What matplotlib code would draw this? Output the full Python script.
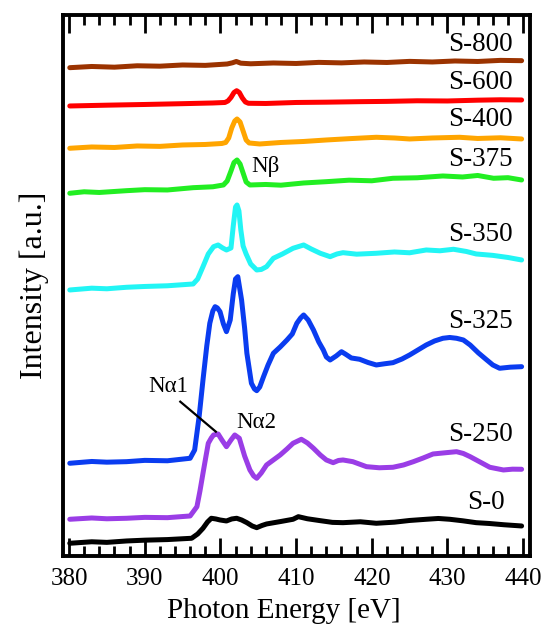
import matplotlib
matplotlib.use('Agg')
import matplotlib.pyplot as plt
from matplotlib.ticker import MultipleLocator

plt.rcParams['font.family'] = ['Liberation Serif', 'DejaVu Serif']

# spectra: photon energy [eV] and stacked intensity [a.u.]
e_s800 = [380.1, 383, 386, 389, 392, 395, 398, 400.9, 401.6, 402.1, 402.7, 404, 407,
          410, 413, 416, 419, 422, 425, 428, 431, 434, 437, 439.8]
i_s800 = [488.3, 489.5, 488.8, 490.2, 489.8, 491, 490.6, 492, 493.2, 494.5, 492.8, 492.2, 493,
          492.5, 493.6, 493.1, 494, 493.5, 494.6, 494, 495, 494.5, 495.6, 495.3]

e_s600 = [380.1, 385, 390, 395, 399, 400.6, 401.0, 401.4, 401.8, 402.15, 402.5, 402.9,
          403.3, 403.7, 406, 410, 414, 418.4, 422, 426, 430, 434, 437, 439.8]
i_s600 = [450, 450.8, 451.5, 452.3, 453, 453.5, 455, 458.5, 463.5, 465.3, 463.5, 458,
          454, 452.7, 452.5, 453.5, 453.8, 454.3, 454.6, 455.2, 455, 455.8, 456.2, 456]

e_s400 = [380.1, 383, 386, 389, 392, 395, 398, 400.2, 400.7, 401.1, 401.5, 401.9,
          402.2, 402.6, 403.0, 403.4, 403.8, 405.2, 408, 411, 414.0, 417, 420.6,
          423, 425.0, 428, 431.6, 434, 437, 439.8]
i_s400 = [407.7, 409, 408.5, 410, 409.6, 411, 411.5, 412.5, 413.5, 418, 428, 435,
          437, 434, 425, 416, 413, 412, 413.5, 414.5, 416, 417.3, 418.7,
          418, 417, 418, 418.7, 417.5, 418.2, 417]

e_s375 = [380.1, 382, 384, 387.6, 390, 393, 396.4, 399, 400.4, 400.9, 401.4, 401.8,
          402.2, 402.6, 403.0, 403.4, 403.9, 406, 408, 411, 414.0, 417, 420, 422.8,
          426, 429.4, 432, 434, 436.1, 438, 439.8]
i_s375 = [362.7, 364.2, 363.5, 365.3, 366.3, 366, 368.3, 369.2, 371, 375, 385, 393.5,
          396, 392, 383, 374, 371, 371.5, 370.8, 373, 374.3, 375.8, 375.2, 377.7,
          378.2, 380, 379, 380.5, 377.7, 378.3, 376]

e_s350 = [380.1, 383, 385, 387.6, 390, 393, 396.4, 397.0, 397.7, 398.4, 399.1, 399.7,
          400.3, 400.8, 401.4, 401.7, 402.0, 402.2, 402.45, 402.7, 403.0, 403.4,
          404.0, 404.8, 405.4, 406.1, 407.0, 408.2, 409.6, 411.0, 412.0, 413.2,
          414.5, 415.4, 416.2, 418, 420.6, 423, 425, 427.2, 429, 430.8, 432.5,
          433.8, 436, 438, 439.8]
i_s350 = [266, 267.8, 267.2, 268.7, 269.5, 270.2, 272, 277, 289.3, 302, 309.3, 311,
          308, 306, 308, 330, 349, 351, 345, 326, 310, 302,
          292, 286, 286.5, 289.3, 297.7, 302, 307.7, 311, 307, 302.7,
          299.3, 302, 303.3, 301.8, 302.7, 304, 303.2, 306, 305.2, 306.7, 304.5,
          302, 300.6, 298.5, 296]

e_s325 = [380.1, 383, 385, 387.6, 390, 393, 396.0, 396.6, 397.2, 397.7, 398.2, 398.6,
          399.0, 399.3, 399.6, 399.95, 400.4, 400.8, 401.3, 401.7, 402.0, 402.3,
          402.8, 403.2, 403.5, 404.1, 404.5, 404.8, 405.2, 405.7, 406.3, 407.0,
          407.9, 408.8, 409.5, 410.1, 410.6, 411.0, 411.6, 412.3, 413.0, 413.6,
          414.0, 414.5, 415.3, 416.0, 416.5, 417.3, 418.4, 419.5, 420.6, 421.7,
          422.8, 424.0, 425.0, 426.1, 427.2, 428.3, 429.4, 430.3, 431.2, 432.1,
          433.0, 434.1, 435.2, 436.0, 436.9, 438.3, 439.8]
i_s325 = [92.7, 94.5, 93.8, 94.3, 95.6, 95.2, 97.7, 106, 140, 176, 210, 232.7,
          245, 249.3, 248, 244.3, 232, 224.3, 236, 262, 277, 279.3,
          256, 228, 202.7, 172.7, 167, 165.3, 169, 179.3, 191, 202.7,
          209, 216, 222, 232.7, 238, 241, 236, 226, 214, 206,
          199, 196, 200, 204.3, 202, 198, 196.7, 193.5, 191, 192.2,
          193.3, 197, 201, 206, 211, 215, 217.7, 218.5, 217.7, 216,
          211, 203, 196, 191, 187.7, 188.8, 189.3]

e_s250 = [380.1, 383, 385, 387.6, 390, 393, 396.0, 396.9, 397.3, 397.7, 398.1, 398.4,
          398.8, 399.1, 399.7, 400.2, 400.8, 401.4, 401.9, 402.5, 403.2, 403.9,
          404.4, 404.8, 405.4, 406.1, 407.0, 407.9, 408.8, 409.6, 410.7, 411.5,
          412.3, 413.2, 414.0, 414.9, 415.6, 416.2, 417.5, 419.3, 421, 422.8,
          424.2, 425.5, 426.8, 428.1, 429.7, 431.2, 432.1, 433.0, 434.3, 435.6,
          437.4, 438.6, 439.8]
i_s250 = [36.7, 38, 37.2, 37.7, 38.6, 38.3, 40, 49.3, 65, 82.7, 100, 112.7,
          118, 121, 122, 116, 109.3, 116, 121, 117.7, 100, 86,
          80, 77.7, 83, 91, 96, 101, 107, 112.7, 116.7, 113,
          107.7, 101, 96, 93.3, 95.5, 96, 94.3, 89.3, 88.2, 88.7,
          91, 94.3, 98, 102, 103.2, 104.3, 102.5, 99.3, 94, 88.7,
          86, 86.8, 86.7]

e_s0 = [380.1, 383, 385, 387.6, 390, 393, 396.2, 397.0, 397.7, 398.3, 398.8,
        399.4, 399.95, 400.8, 401.5, 402.15, 402.8, 403.5, 404.2, 404.8, 405.5,
        406.1, 408, 409.6, 410.3, 411.5, 413.2, 414.8, 416.2, 418.5, 420.6, 423,
        425, 427.2, 428.8, 430.3, 432, 433.8, 435.5, 437.5, 439.8]
i_s0 = [12.7, 14.2, 13.6, 15, 15.8, 16.4, 17.7, 22, 27.7, 34, 37.7,
        37, 36, 35, 37, 37.7, 36, 33.3, 30, 28.3, 30.5,
        32, 34.5, 36.7, 39.3, 37.2, 35.3, 33.6, 33.3, 34.2, 32.7, 33.8,
        35.5, 36.7, 37.5, 36.7, 35.2, 33.3, 32.5, 31.2, 30]

names = ['S-800', 'S-600', 'S-400', 'S-375', 'S-350', 'S-325', 'S-250', 'S-0']
energies = [e_s800, e_s600, e_s400, e_s375, e_s350, e_s325, e_s250, e_s0]
intensities = [i_s800, i_s600, i_s400, i_s375, i_s350, i_s325, i_s250, i_s0]
colors = ['#9B3300', '#FF0000', '#FFA500', '#22EE22', '#22F5F5', '#0A3CF0',
          '#9A3DE6', '#000000']
label_pos = [(438.65, 511), (438.65, 473), (438.65, 436), (438.65, 396),
             (438.65, 321), (438.65, 234), (438.65, 121), (437.6, 53)]

fig = plt.figure(figsize=(5.5, 6.32), dpi=100)
ax = fig.add_axes([0.1145, 0.1203, 0.849, 0.856])

for e, i, c, n, (lx, ly) in zip(energies, intensities, colors, names, label_pos):
    ax.plot(e, i, color=c, lw=3.6, solid_capstyle='round', solid_joinstyle='round')
    ax.text(lx, ly, n, ha='right', va='center', fontsize=19.5)

# peak labels
ax.text(406.0, 389, 'Nβ', ha='center', va='center', fontsize=16.5)
ax.text(393.1, 169, 'Nα1', ha='center', va='center', fontsize=16.5)
ax.text(404.7, 133, 'Nα2', ha='center', va='center', fontsize=16.5)
ax.plot([394.7, 399.4], [154.3, 124.3], color='black', lw=1.6)

ax.set_xlim(379.2, 440.9)
ax.set_ylim(0, 541)
ax.xaxis.set_major_locator(MultipleLocator(10))
ax.xaxis.set_minor_locator(MultipleLocator(2))
ax.set_yticks([])
ax.tick_params(axis='x', which='both', direction='in', top=True, bottom=True,
               labelsize=18, pad=9)
ax.tick_params(axis='x', which='major', length=13, width=2)
ax.tick_params(axis='x', which='minor', length=7, width=2)
for sp in ax.spines.values():
    sp.set_linewidth(2.8)

ax.set_xlabel('Photon Energy [eV]', fontsize=21)
ax.xaxis.set_label_coords(0.473, -0.077)
ax.set_ylabel('Intensity [a.u.]', fontsize=23, labelpad=10)

fig.savefig('out.png', dpi=100)
